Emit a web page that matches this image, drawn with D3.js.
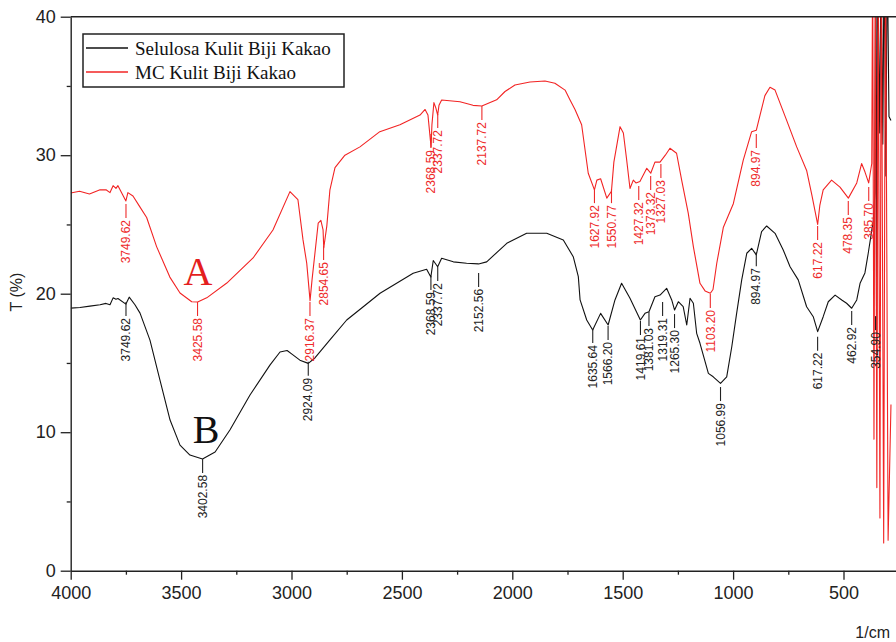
<!DOCTYPE html>
<html><head><meta charset="utf-8">
<script src="https://cdn.jsdelivr.net/npm/d3@7"></script>
<style>body{margin:0;background:#fff}svg{display:block}</style>
</head><body>
<svg id="c" width="896" height="642"></svg>
<script>
// Series A: MC Kulit Biji Kakao (red)
const wnA = [4000,3960,3915,3867,3840,3822,3808,3795,3786,3750,3741,3718,3686,3656,3611,3551,3505,3452,3425,3384,3293,3174,3084,3007,2971,2948,2931,2916,2907,2879,2867,2857,2854,2840,2826,2803,2758,2690,2600,2509,2418,2395,2382,2368,2364,2355,2346,2338,2332,2320,2237,2178,2138,2071,2033,1988,1920,1852,1807,1761,1739,1716,1686,1656,1628,1617,1600,1572,1551,1540,1512,1497,1482,1467,1452,1440,1422,1391,1373,1354,1331,1307,1286,1256,1233,1203,1180,1150,1127,1103,1091,1074,1044,999,954,916,895,878,856,833,810,757,712,667,643,617,607,592,554,516,478,440,418,403,386,372,368,362,356,349,343,335,329,318,310,298,285];
const tA  = [27.27,27.4,27.2,27.5,27.5,27.3,27.8,27.6,27.8,26.7,27.3,27.05,26.25,25.5,23.4,21.2,20.05,19.42,19.4,19.7,20.77,22.58,24.6,27.37,26.8,23.9,22.2,19.5,21.0,25.1,25.3,24.6,23.3,24.9,27.5,29.1,30.0,30.6,31.7,32.2,32.9,33.3,32.9,30.6,32.2,33.8,33.4,32.9,33.6,33.99,33.86,33.6,33.55,34.0,34.6,35.07,35.28,35.36,35.2,34.7,34.0,33.3,32.2,28.7,27.5,28.2,28.3,26.9,27.4,29.5,32.06,31.6,29.65,27.6,28.2,28.0,28.1,29.05,28.7,29.5,29.5,30.0,30.5,30.14,28.2,25.8,23.4,20.75,20.2,20.03,20.3,22.2,24.8,26.5,29.65,31.7,31.8,32.9,34.3,34.9,34.7,32.5,30.6,28.9,27.1,25.0,26.4,27.5,28.2,27.7,26.9,28.0,29.4,28.8,28.0,29.4,45,9.5,45,6.0,45,3.8,45,2.0,45,2.2,12];

// Series B: Selulosa Kulit Biji Kakao (black)
const wnB = [4000,3958,3913,3867,3840,3822,3808,3795,3786,3750,3735,3709,3686,3641,3596,3550,3505,3460,3403,3346,3279,3188,3097,3052,3020,2995,2962,2924,2894,2826,2750,2675,2599,2524,2449,2388,2369,2358,2338,2320,2267,2207,2153,2116,2025,1935,1844,1769,1724,1701,1693,1663,1636,1600,1566,1535,1505,1467,1420,1399,1381,1354,1331,1301,1278,1265,1248,1226,1210,1195,1180,1165,1150,1112,1090,1057,1029,1006,984,961,938,916,895,871,848,810,773,742,705,667,637,617,592,569,538,508,486,463,440,425,403,388,365,358,354,350,346,336,330,322,316,308,302,294,285];
const tB  = [18.96,19.0,19.1,19.2,19.3,19.2,19.7,19.6,19.65,19.25,19.75,19.2,18.6,16.65,13.77,10.88,9.07,8.35,8.07,8.57,10.16,12.69,14.86,15.79,15.9,15.6,15.2,14.97,15.36,16.66,18.1,19.06,20.03,20.75,21.47,21.76,21.2,22.4,21.95,22.56,22.3,22.2,22.15,22.3,23.64,24.36,24.36,23.88,22.67,21.23,19.55,18.1,17.38,18.58,17.74,19.55,20.75,19.67,18.1,18.58,18.7,19.78,19.9,20.39,19.55,18.82,19.42,19.06,17.74,19.67,19.31,17.14,16.42,14.25,14.0,13.53,14.0,16.17,18.58,21.0,22.92,23.28,22.8,24.48,24.89,24.36,23.16,21.95,21.0,19.06,18.34,17.26,18.34,19.42,19.9,19.55,19.31,18.95,19.55,20.75,21.5,22.92,25.3,27.3,45,16,45,31.6,45,30.8,45,28.5,45,32.8,32.5];

// Peak labels (wavenumber, T at top of the label tick)
const peaksA  = [3749.62,3425.58,2916.37,2854.65,2368.59,2337.72,2137.72,1627.92,1550.77,1427.32,1373.32,1327.03,1103.20,894.97,617.22,478.35,385.70];
const peaksAT = [26.48,19.40,19.40,23.44,31.53,32.97,33.55,27.55,27.55,27.78,28.50,29.36,19.98,31.53,24.89,26.69,27.70];
const peaksB  = [3749.62,3402.58,2924.09,2368.59,2337.72,2152.56,1635.64,1566.20,1419.61,1381.03,1319.31,1265.30,1056.99,894.97,617.22,462.92,354.90];
const peaksBT = [19.40,8.07,15.08,21.28,21.93,21.50,17.45,17.67,18.03,18.68,19.40,18.53,13.26,23.00,16.90,18.75,18.38];

const xTicks = [4000,3500,3000,2500,2000,1500,1000,500];
const xMinor = [3750,3250,2750,2250,1750,1250,750];
const yTicks = [0,10,20,30,40];
const yMinor = [5,15,25,35];
const seriesNames = ["Selulosa Kulit Biji Kakao","MC Kulit Biji Kakao"];
const seriesColors = ["#111111","#f22424"];

const svg = d3.select("#c");
const x = d3.scaleLinear().domain([4000,250]).range([70.7,898.7]);
const y = d3.scaleLinear().domain([0,40]).range([570.7,16.7]);
const axisColor = "#222";

svg.append("defs").append("clipPath").attr("id","clip")
  .append("rect").attr("x",70.7).attr("y",16.7).attr("width",830).attr("height",554);

const line = d3.line().x(d=>x(d[0])).y(d=>y(d[1]));
const gC = svg.append("g").attr("clip-path","url(#clip)");
gC.append("path").datum(d3.zip(wnB,tB)).attr("d",line).attr("fill","none")
  .attr("stroke",seriesColors[0]).attr("stroke-width",1.1).attr("stroke-linejoin","round");
gC.append("path").datum(d3.zip(wnA,tA)).attr("d",line).attr("fill","none")
  .attr("stroke",seriesColors[1]).attr("stroke-width",1.1).attr("stroke-linejoin","round");

// peak labels
function drawPeaks(ws, ts, color){
  const g = svg.append("g");
  ws.forEach((w,i)=>{
    const px = x(w), py = y(ts[i]);
    g.append("line").attr("x1",px).attr("x2",px).attr("y1",py).attr("y2",py+14)
      .attr("stroke",color).attr("stroke-width",1.1);
    g.append("text").attr("transform",`translate(${px},${py+16}) rotate(-90)`)
      .attr("text-anchor","end").attr("dy","0.35em")
      .attr("font-family","Liberation Sans, Arial, sans-serif").attr("font-size",12)
      .attr("fill",color).text(w.toFixed(2));
  });
}
drawPeaks(peaksB,peaksBT,"#222");
drawPeaks(peaksA,peaksAT,"#ee2a2a");

// axes
const fontAx = "Liberation Sans, Arial, sans-serif";
const gx = svg.append("g").attr("transform","translate(0,570.7)");
gx.call(d3.axisBottom(x).tickValues(xTicks).tickSize(9).tickSizeOuter(0).tickPadding(7).tickFormat(d3.format("d")));
const gxm = svg.append("g").attr("transform","translate(0,570.7)");
gxm.call(d3.axisBottom(x).tickValues(xMinor).tickSize(4).tickSizeOuter(0).tickFormat(""));
gxm.select(".domain").remove();
const gy = svg.append("g").attr("transform","translate(70.7,0)");
gy.call(d3.axisLeft(y).tickValues(yTicks).tickSize(10).tickSizeOuter(0).tickPadding(5));
const gym = svg.append("g").attr("transform","translate(70.7,0)");
gym.call(d3.axisLeft(y).tickValues(yMinor).tickSize(4).tickSizeOuter(0).tickFormat(""));
gym.select(".domain").remove();
svg.selectAll(".domain").attr("stroke",axisColor).attr("stroke-width",1.4);
svg.selectAll(".tick line").attr("stroke",axisColor).attr("stroke-width",1.3);
svg.selectAll(".tick text").attr("font-family",fontAx).attr("font-size",18).attr("fill","#222");
// top border
svg.append("line").attr("x1",x(4000)).attr("x2",896).attr("y1",y(40)).attr("y2",y(40))
  .attr("stroke",axisColor).attr("stroke-width",1.4);

// axis titles
svg.append("text").attr("transform","translate(22,292) rotate(-90)").attr("text-anchor","middle")
  .attr("font-family",fontAx).attr("font-size",16).attr("fill","#222").text("T (%)");
svg.append("text").attr("x",890).attr("y",638).attr("text-anchor","end")
  .attr("font-family",fontAx).attr("font-size",16).attr("fill","#222").text("1/cm");

// A / B markers
svg.append("text").attr("x",198).attr("y",285).attr("text-anchor","middle")
  .attr("font-family","Liberation Serif, Times New Roman, serif").attr("font-size",40)
  .attr("fill","#e41e1e").text("A");
svg.append("text").attr("x",206).attr("y",443).attr("text-anchor","middle")
  .attr("font-family","Liberation Serif, Times New Roman, serif").attr("font-size",40)
  .attr("fill","#111").text("B");

// legend
const lg = svg.append("g");
lg.append("rect").attr("x",83).attr("y",34).attr("width",261).attr("height",53)
  .attr("fill","#fff").attr("stroke","#222").attr("stroke-width",1.5);
seriesNames.forEach((n,i)=>{
  const yy = 48 + i*24;
  lg.append("line").attr("x1",86).attr("x2",128).attr("y1",yy).attr("y2",yy)
    .attr("stroke",seriesColors[i]).attr("stroke-width",1.5);
  lg.append("text").attr("x",135).attr("y",yy).attr("dy","0.35em")
    .attr("font-family","Liberation Serif, Times New Roman, serif").attr("font-size",19)
    .attr("fill","#111").text(n);
});
</script>
</body></html>
